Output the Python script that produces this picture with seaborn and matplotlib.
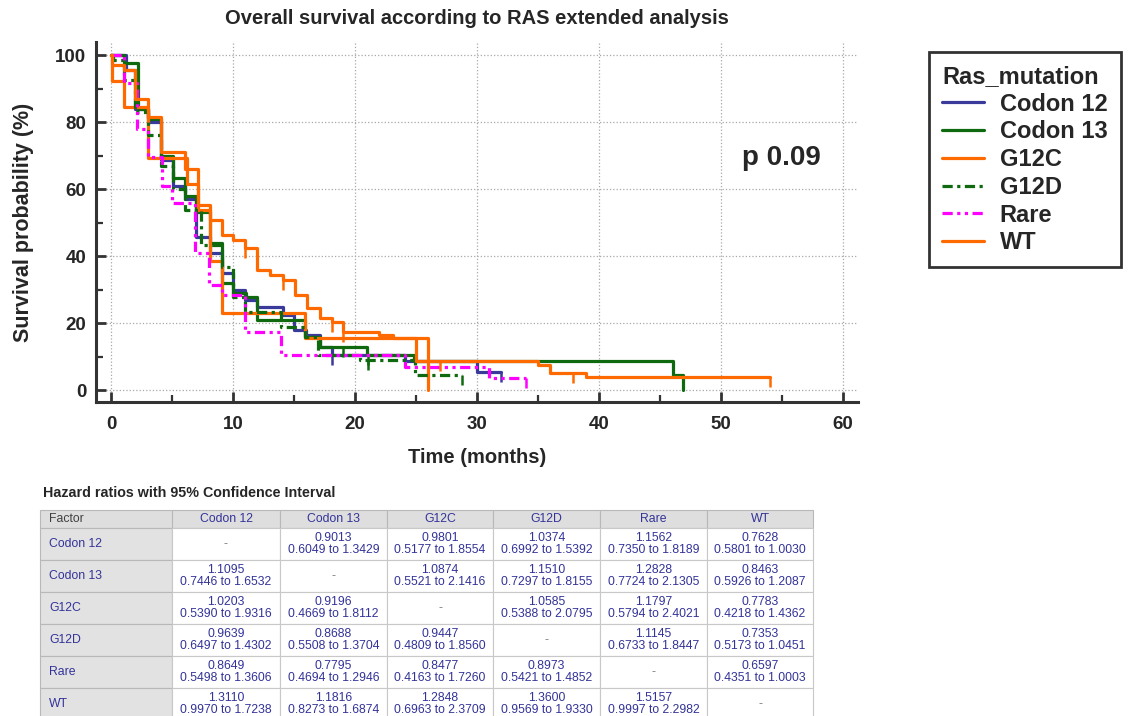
import numpy as np
import pandas as pd
import matplotlib
matplotlib.use("Agg")
import matplotlib.pyplot as plt
import seaborn as sns
from matplotlib.lines import Line2D
from matplotlib.table import Table
from matplotlib.ticker import MultipleLocator

# ---------------- data ----------------
groups = ["Codon 12", "Codon 13", "G12C", "G12D", "Rare", "WT"]

codon12_t = [0, 1.2, 2.0, 3.0, 4.1, 5.1, 6.1, 7.0, 8.1, 9.1, 10.0, 11.0, 12.0, 14.1, 15.0, 16.0, 17.1, 18.1, 24.1, 30.0]
codon12_s = [100, 95.5, 84, 80, 68.7, 61, 57, 45.7, 41, 35, 30, 27, 24.8, 22.4, 17.9, 16.4, 12.8, 10.4, 8.7, 5.4]
codon12_end = 32.0
codon12_cens = [18.1, 32.0]

codon13_t = [0, 1.1, 2.2, 3.0, 4.1, 5.1, 6.1, 7.0, 8.1, 9.1, 10.0, 11.1, 12.0, 15.9, 17.1, 21.0, 24.8, 46.1, 46.9]
codon13_s = [100, 97.6, 84, 81, 70, 63.3, 58, 53, 44, 32, 29, 27.8, 21, 15.8, 12.8, 10.4, 8.7, 4.5, 0]
codon13_end = 46.9
codon13_cens = [19.0, 21.1]

g12c_t = [0, 0.1, 1.1, 3.0, 6.2, 7.1, 8.1, 9.1, 15.9, 26.0]
g12c_s = [100, 92.3, 84.6, 69.2, 61.5, 53.8, 38.5, 23.1, 15.4, 0]
g12c_end = 26.0
g12c_cens = []

g12d_t = [0, 0.2, 1.1, 2.0, 3.0, 4.1, 5.1, 6.1, 7.4, 9.1, 10.0, 11.0, 13.9, 15.9, 17.0, 20.4, 24.9]
g12d_s = [100, 98.5, 92.7, 83, 76, 67, 60, 53.7, 43.3, 36.7, 27.8, 23.3, 18.8, 15.8, 10.4, 9.0, 4.5]
g12d_end = 28.8
g12d_cens = [21.1, 28.8]

rare_t = [0, 1.1, 2.1, 3.0, 4.2, 5.0, 6.9, 8.0, 9.1, 11.0, 13.9, 24.1, 31.0]
rare_s = [100, 91.6, 78, 69.5, 61, 55.8, 41, 31.3, 28.4, 17.3, 10.4, 6.9, 3.6]
rare_end = 34.0
rare_cens = [34.0]

wt_t = [0, 0.1, 1.1, 2.0, 3.0, 4.1, 6.1, 7.1, 8.1, 9.1, 10.0, 11.0, 12.0, 13.0, 14.1, 15.1, 16.1, 17.1, 18.1,
        19.0, 22.0, 23.1, 25.0, 35.0, 36.0, 38.9]
wt_s = [100, 97.1, 95.5, 87, 81.5, 71, 66, 55.2, 50.7, 46.3, 44.8, 42.4, 35.8, 34.3, 32.8, 28.4, 24.5, 21.5, 20.3,
        17.3, 16.4, 15.5, 8.7, 7.5, 5.0, 3.9]
wt_end = 54.0
wt_cens = [11.0, 14.1, 18.1, 19.0, 27.0, 37.9, 54.0]

p_text = "p 0.09"

# hazard ratio table
hr_values = [
    [None, 0.9013, 0.9801, 1.0374, 1.1562, 0.7628],
    [1.1095, None, 1.0874, 1.1510, 1.2828, 0.8463],
    [1.0203, 0.9196, None, 1.0585, 1.1797, 0.7783],
    [0.9639, 0.8688, 0.9447, None, 1.1145, 0.7353],
    [0.8649, 0.7795, 0.8477, 0.8973, None, 0.6597],
    [1.3110, 1.1816, 1.2848, 1.3600, 1.5157, None],
]
hr_low = [
    [None, 0.6049, 0.5177, 0.6992, 0.7350, 0.5801],
    [0.7446, None, 0.5521, 0.7297, 0.7724, 0.5926],
    [0.5390, 0.4669, None, 0.5388, 0.5794, 0.4218],
    [0.6497, 0.5508, 0.4809, None, 0.6733, 0.5173],
    [0.5498, 0.4694, 0.4163, 0.5421, None, 0.4351],
    [0.9970, 0.8273, 0.6963, 0.9569, 0.9997, None],
]
hr_high = [
    [None, 1.3429, 1.8554, 1.5392, 1.8189, 1.0030],
    [1.6532, None, 2.1416, 1.8155, 2.1305, 1.2087],
    [1.9316, 1.8112, None, 2.0795, 2.4021, 1.4362],
    [1.4302, 1.3704, 1.8560, None, 1.8447, 1.0451],
    [1.3606, 1.2946, 1.7260, 1.4852, None, 1.0003],
    [1.7238, 1.6874, 2.3709, 1.9330, 2.2982, None],
]

# ---------------- style ----------------
sns.set_style("white")
plt.rcParams["font.family"] = ["Liberation Sans", "DejaVu Sans"]

W, H = 1132, 716
fig = plt.figure(figsize=(W / 100, H / 100), dpi=100)
ax = fig.add_axes([96 / W, 1 - 402 / H, (858 - 96) / W, 360 / H])

curves = {
    "Codon 12": (codon12_t, codon12_s, codon12_end, codon12_cens),
    "Codon 13": (codon13_t, codon13_s, codon13_end, codon13_cens),
    "G12C": (g12c_t, g12c_s, g12c_end, g12c_cens),
    "G12D": (g12d_t, g12d_s, g12d_end, g12d_cens),
    "Rare": (rare_t, rare_s, rare_end, rare_cens),
    "WT": (wt_t, wt_s, wt_end, wt_cens),
}
colors = {"Codon 12": "#3a3a9a", "Codon 13": "#0f6a0f", "G12C": "#ff6a00",
          "G12D": "#0f6a0f", "Rare": "#ff00ff", "WT": "#ff6a00"}
lstyles = {"Codon 12": "-", "Codon 13": "-", "G12C": "-",
           "G12D": (0, (3.2, 1.4, 1.0, 1.4)),
           "Rare": (0, (3.2, 1.4, 1.0, 1.4, 1.0, 1.4)), "WT": "-"}
LW = 2.3

for g in groups:
    t, s, end, cens = curves[g]
    tt = list(t) + ([end] if end > t[-1] else [])
    ss = list(s) + ([s[-1]] if end > t[-1] else [])
    df = pd.DataFrame({"time": tt, "surv": ss})
    sns.lineplot(data=df, x="time", y="surv", estimator=None, sort=False,
                 drawstyle="steps-post", color=colors[g], linestyle=lstyles[g],
                 linewidth=LW, ax=ax, legend=False)
    if cens:
        ta = np.asarray(t)
        sa = np.asarray(s)
        idx = np.searchsorted(ta, np.asarray(cens), side="right") - 1
        ax.plot(cens, sa[idx], ls="none", marker=3, ms=7, mew=1.8, color=colors[g])

ax.set_xlim(-1.23, 61.23)
ax.set_ylim(-3.58, 103.9)
ax.xaxis.set_major_locator(MultipleLocator(10))
ax.xaxis.set_minor_locator(MultipleLocator(5))
ax.yaxis.set_major_locator(MultipleLocator(20))
ax.yaxis.set_minor_locator(MultipleLocator(10))
ax.grid(True, which="major", ls=":", color="#a8a8a8", lw=0.9)
ax.set_axisbelow(True)
for sp in ["top", "right"]:
    ax.spines[sp].set_visible(False)
for sp in ["left", "bottom"]:
    ax.spines[sp].set_visible(True)
    ax.spines[sp].set_color("#333333")
    ax.spines[sp].set_linewidth(2.2)
ax.tick_params(which="major", direction="in", length=7, width=2, color="#333333",
               labelsize=13.5, left=True, bottom=True, top=False, right=False)
ax.tick_params(axis="x", which="major", pad=10)
ax.tick_params(axis="y", which="major", pad=7)
ax.tick_params(which="minor", direction="in", length=5, width=1.6, color="#333333",
               left=True, bottom=True, top=False, right=False)
for lab in ax.get_xticklabels() + ax.get_yticklabels():
    lab.set_fontweight("bold")
ax.set_xlabel("Time (months)", fontsize=14.5, fontweight="bold", labelpad=11)
ax.set_ylabel("Survival probability (%)", fontsize=15.5, fontweight="bold", labelpad=15)
ax.set_title("Overall survival according to RAS extended analysis", fontsize=14.5,
             fontweight="bold", pad=13)
ax.text(0.900, 0.678, p_text, transform=ax.transAxes, fontsize=20, fontweight="bold",
        ha="center", va="center")

handles = [Line2D([0], [0], color=colors[g], ls=lstyles[g], lw=LW) for g in groups]
leg = fig.legend(handles, groups, title="Ras_mutation", loc="upper left",
                 bbox_to_anchor=(929 / W, 1 - 52 / H), frameon=True, fancybox=False,
                 edgecolor="#333333", framealpha=1, prop={"weight": "bold", "size": 17},
                 title_fontproperties={"weight": "bold", "size": 17}, alignment="left",
                 handlelength=1.8, handletextpad=0.65, labelspacing=0.2, borderpad=0.55,
                 borderaxespad=0)
leg.get_frame().set_linewidth(2)

# ---------------- hazard ratio table ----------------
fig.text(43 / W, 1 - 493 / H, "Hazard ratios with 95% Confidence Interval",
         fontsize=10.3, fontweight="bold", ha="left", va="center")
tax = fig.add_axes([40 / W, (716 - 720) / H, (813 - 40) / W, 210 / H])
tax.axis("off")
tab = Table(tax, bbox=[0, 0, 1, 1])
col_w = [132, 108, 107, 106, 107, 107, 106]
row_h = [18] + [32] * 6
blue_txt = "#333399"
header = ["Factor"] + groups
for c, txt in enumerate(header):
    cell = tab.add_cell(0, c, col_w[c], row_h[0], text=txt, loc="left" if c == 0 else "center",
                        facecolor="#dedede", edgecolor="#b8b8b8")
    cell.get_text().set_color("#404040" if c == 0 else blue_txt)
for r, g in enumerate(groups):
    cell = tab.add_cell(r + 1, 0, col_w[0], row_h[r + 1], text=g, loc="left",
                        facecolor="#e2e2e2", edgecolor="#b8b8b8")
    cell.get_text().set_color(blue_txt)
    for c in range(6):
        v = hr_values[r][c]
        if v is None:
            txt = "-"
        else:
            txt = f"{v:.4f}\n{hr_low[r][c]:.4f} to {hr_high[r][c]:.4f}"
        cell = tab.add_cell(r + 1, c + 1, col_w[c + 1], row_h[r + 1], text=txt, loc="center",
                            facecolor="white", edgecolor="#c8c8c8")
        cell.get_text().set_color(blue_txt if v is not None else "#808080")
        cell.get_text().set_linespacing(1.1)
tab.auto_set_font_size(False)
tab.set_fontsize(8.8)
for (r, c), cell in tab.get_celld().items():
    cell.set_linewidth(0.8)
    if c == 0:
        cell.PAD = 0.07
tax.add_table(tab)

fig.savefig("out.png", dpi=100)
